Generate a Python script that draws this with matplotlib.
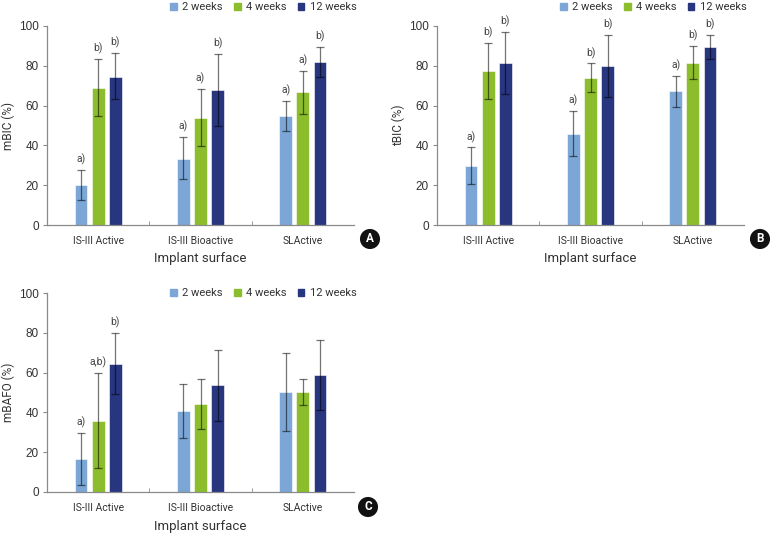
import numpy as np
import matplotlib.pyplot as plt
from matplotlib.patches import Patch

categories = ['IS-III Active', 'IS-III Bioactive', 'SLActive']
weeks = ['2 weeks', '4 weeks', '12 weeks']
colors = ['#7ba6d6', '#8cbd2c', '#28357f']

# panel A - mBIC (bar value, error top, error bottom) per week
a_mean = [[20.1, 33.4, 54.7], [69.0, 53.8, 66.7], [74.6, 67.9, 81.8]]
a_hi = [[27.8, 44.1, 62.2], [83.6, 68.2, 77.6], [86.3, 86.0, 89.3]]
a_lo = [[12.4, 23.1, 47.2], [54.7, 39.5, 56.0], [63.2, 49.8, 74.2]]
a_sig = [['a)', 'a)', 'a)'], ['b)', 'a)', 'a)'], ['b)', 'b)', 'b)']]

# panel B - tBIC
b_mean = [[29.8, 45.9, 67.4], [77.4, 73.8, 81.6], [81.3, 80.0, 89.3]]
b_hi = [[39.0, 57.3, 75.1], [91.6, 81.2, 89.8], [97.2, 95.6, 95.3]]
b_lo = [[20.6, 34.8, 59.4], [63.2, 66.6, 73.6], [65.6, 64.5, 83.6]]
b_sig = [['a)', 'a)', 'a)'], ['b)', 'b)', 'b)'], ['b)', 'b)', 'b)']]

# panel C - mBAFO
c_mean = [[16.6, 40.7, 50.1], [35.8, 44.4, 50.1], [64.3, 53.7, 58.6]]
c_hi = [[29.6, 54.4, 70.0], [59.8, 56.9, 56.9], [79.9, 71.6, 76.5]]
c_lo = [[3.5, 27.1, 30.5], [12.0, 31.8, 43.6], [49.0, 35.8, 41.0]]
c_sig = [['a)', '', ''], ['a,b)', '', ''], ['b)', '', '']]

txt = '#333333'
axc = '#8a8a8a'
plt.rcParams['font.family'] = ['Roboto', 'DejaVu Sans']

fig = plt.figure(figsize=(7.72, 5.33), dpi=100)
W, H = 772, 533


def make_ax(left, top):
    return fig.add_axes([left / W, 1 - (top + 199) / H, 307 / W, 199 / H])


def panel(ax, mean, hi, lo, sig, ylabel, legend_y, xlab_y):
    x = np.arange(len(categories))
    offs = [-0.167, 0, 0.167]
    for i in range(3):
        m = np.array(mean[i])
        err = [m - np.array(lo[i]), np.array(hi[i]) - m]
        ax.bar(x + offs[i], m, width=0.125, color=colors[i], edgecolor='white',
               linewidth=0.4, label=weeks[i], zorder=2)
        ax.errorbar(x + offs[i], m, yerr=err, fmt='none', ecolor='black', alpha=0.55,
                    elinewidth=0.9, capsize=2.8, capthick=0.9, zorder=3)
        for j in range(3):
            if sig[i][j]:
                ax.annotate(sig[i][j], (x[j] + offs[i], hi[i][j]), xytext=(0, 3.5),
                            textcoords='offset points', ha='center', va='bottom',
                            fontsize=7.5, color='#444444')
    ax.set_xlim(-0.5, 2.5)
    ax.set_ylim(0, 100)
    ax.set_yticks(range(0, 101, 20))
    ax.set_xticks(x)
    ax.set_xticklabels(categories, fontsize=7.5, color=txt)
    ax.set_xticks([0.5, 1.5], minor=True)
    ax.tick_params(axis='x', which='major', length=0, pad=8)
    ax.tick_params(axis='x', which='minor', length=3, color=axc, direction='in')
    ax.tick_params(axis='y', length=3, color=axc, pad=3, labelsize=8.5, labelcolor=txt)
    for t in ax.get_yticklabels():
        t.set_family('Liberation Sans')
    for s in ['top', 'right']:
        ax.spines[s].set_visible(False)
    for s in ['left', 'bottom']:
        ax.spines[s].set_color(axc)
        ax.spines[s].set_linewidth(0.9)
    ax.set_ylabel(ylabel, fontsize=8.5, color=txt, va='center')
    ax.yaxis.set_label_coords(-0.127, 0.5)
    ax.set_xlabel('Implant surface', fontsize=9.5, color=txt, va='center')
    ax.xaxis.set_label_coords(0.5, xlab_y)
    handles = [Patch(color=colors[i], label=weeks[i]) for i in range(3)]
    ax.legend(handles=handles, loc='center', bbox_to_anchor=(0.705, legend_y), ncol=3,
              frameon=False, fontsize=8, handlelength=0.6, handleheight=0.6,
              handletextpad=0.5, columnspacing=1.0, labelcolor=txt)


ax_a = make_ax(47, 26)
panel(ax_a, a_mean, a_hi, a_lo, a_sig, 'mBIC (%)', 1.095, -0.166)
ax_b = make_ax(437, 26)
panel(ax_b, b_mean, b_hi, b_lo, b_sig, 'tBIC (%)', 1.095, -0.166)
ax_c = make_ax(47, 293)
panel(ax_c, c_mean, c_hi, c_lo, c_sig, 'mBAFO (%)', 1.0, -0.171)

for lab, px, py in [('A', 370, 239), ('B', 760, 239), ('C', 368, 507)]:
    fig.text(px / W, 1 - py / H, lab, ha='center', va='center', color='white',
             fontsize=8.5, weight='bold',
             bbox=dict(boxstyle='circle,pad=0.3', fc='#111111', ec='none'))

fig.savefig('out.png', dpi=100)
